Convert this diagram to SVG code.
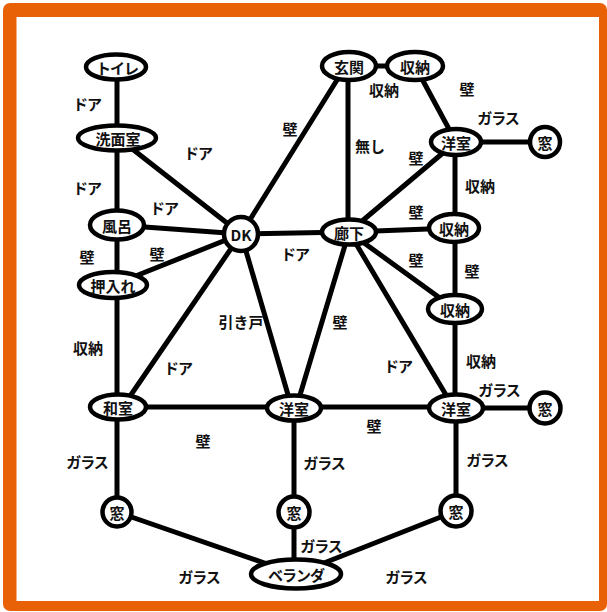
<svg xmlns="http://www.w3.org/2000/svg" width="607" height="612" viewBox="0 0 607 612">
<style>
.e{stroke:#000;stroke-width:5;stroke-linecap:round;fill:none}
.n{fill:#fff;stroke:#000;stroke-width:4.5}
.t{font-family:"Noto Sans CJK JP","Liberation Sans",sans-serif;font-size:15px;font-weight:bold;fill:#111;text-anchor:middle;dominant-baseline:central}
.k{letter-spacing:-1px}
</style>
<rect x="0" y="0" width="607" height="612" fill="#fff"/>
<rect x="3" y="3" width="604" height="608" rx="7" fill="#E96106"/>
<rect x="16.5" y="17" width="582.5" height="584" fill="#fff"/>
<g id="connectors">
<line class="e" x1="117" y1="66" x2="117" y2="137"/>
<line class="e" x1="117" y1="137" x2="117" y2="225"/>
<line class="e" x1="117" y1="225" x2="117" y2="285"/>
<line class="e" x1="117" y1="285" x2="117" y2="407"/>
<line class="e" x1="117" y1="407" x2="117" y2="512"/>
<line class="e" x1="117" y1="137" x2="241" y2="234"/>
<line class="e" x1="117" y1="225" x2="241" y2="234"/>
<line class="e" x1="113" y1="285" x2="241" y2="234"/>
<line class="e" x1="241" y1="234" x2="124" y2="405"/>
<line class="e" x1="241" y1="234" x2="291" y2="405"/>
<line class="e" x1="241" y1="234" x2="342" y2="72"/>
<line class="e" x1="241" y1="234" x2="349" y2="232"/>
<line class="e" x1="349" y1="66" x2="415" y2="66"/>
<line class="e" x1="348" y1="66" x2="348" y2="232"/>
<line class="e" x1="415" y1="66" x2="456" y2="142"/>
<line class="e" x1="456" y1="142" x2="545" y2="142"/>
<line class="e" x1="456" y1="142" x2="349" y2="232"/>
<line class="e" x1="455" y1="142" x2="455" y2="228"/>
<line class="e" x1="349" y1="232" x2="454" y2="228"/>
<line class="e" x1="455" y1="228" x2="455" y2="309"/>
<line class="e" x1="349" y1="232" x2="455" y2="309"/>
<line class="e" x1="455" y1="309" x2="455" y2="408"/>
<line class="e" x1="349" y1="232" x2="452" y2="405"/>
<line class="e" x1="349" y1="232" x2="297" y2="405"/>
<line class="e" x1="118" y1="407" x2="456" y2="407"/>
<line class="e" x1="456" y1="408" x2="545" y2="408"/>
<line class="e" x1="294" y1="408" x2="294" y2="574"/>
<line class="e" x1="456" y1="408" x2="456" y2="511"/>
<line class="e" x1="117" y1="512" x2="296" y2="574"/>
<line class="e" x1="456" y1="511" x2="296" y2="574"/>
</g>
<g id="toilet"><ellipse class="n" cx="116" cy="67" rx="30" ry="12.5"/><text class="t k" x="117" y="67">トイレ</text></g>
<g id="senmen"><ellipse class="n" cx="117" cy="138" rx="39" ry="12.5"/><text class="t" x="118" y="138">洗面室</text></g>
<g id="furo"><ellipse class="n" cx="117" cy="225" rx="27" ry="14.5"/><text class="t" x="117" y="225">風呂</text></g>
<g id="oshiire"><ellipse class="n" cx="113" cy="285" rx="34" ry="13"/><text class="t" x="113" y="285">押入れ</text></g>
<g id="dk"><circle class="n" cx="241" cy="234" r="17"/><text class="t" x="241" y="234">DK</text></g>
<g id="genkan"><ellipse class="n" cx="349" cy="66" rx="27" ry="14"/><text class="t" x="349" y="66">玄関</text></g>
<g id="shuno1"><ellipse class="n" cx="415" cy="66" rx="28" ry="14"/><text class="t" x="415" y="66">収納</text></g>
<g id="yoshitsu1"><ellipse class="n" cx="456" cy="142" rx="25" ry="13"/><text class="t" x="456" y="142">洋室</text></g>
<g id="mado1"><circle class="n" cx="545" cy="142" r="15"/><text class="t" x="545" y="142">窓</text></g>
<g id="roka"><ellipse class="n" cx="349" cy="232" rx="27" ry="12.5"/><text class="t" x="349" y="232">廊下</text></g>
<g id="shuno2"><ellipse class="n" cx="454" cy="228" rx="25" ry="14"/><text class="t" x="454" y="228">収納</text></g>
<g id="shuno3"><ellipse class="n" cx="455" cy="309" rx="27" ry="14"/><text class="t" x="455" y="309">収納</text></g>
<g id="washitsu"><ellipse class="n" cx="118" cy="407" rx="28" ry="12.5"/><text class="t" x="118" y="407">和室</text></g>
<g id="yoshitsu2"><ellipse class="n" cx="294" cy="408" rx="27" ry="12.5"/><text class="t" x="294" y="408">洋室</text></g>
<g id="yoshitsu3"><ellipse class="n" cx="456" cy="408" rx="27" ry="13.5"/><text class="t" x="456" y="408">洋室</text></g>
<g id="mado2"><circle class="n" cx="545" cy="408" r="15.5"/><text class="t" x="545" y="408">窓</text></g>
<g id="mado3"><circle class="n" cx="117" cy="512" r="14.5"/><text class="t" x="117" y="512">窓</text></g>
<g id="mado4"><circle class="n" cx="294" cy="512" r="15.5"/><text class="t" x="294" y="512">窓</text></g>
<g id="mado5"><circle class="n" cx="456" cy="511" r="15.5"/><text class="t" x="456" y="511">窓</text></g>
<g id="veranda"><ellipse class="n" cx="296" cy="574" rx="45" ry="14.5"/><text class="t k" x="296" y="574">ベランダ</text></g>
<g id="labels">
<text class="t k" x="87" y="103">ドア</text>
<text class="t k" x="198" y="152">ドア</text>
<text class="t k" x="87" y="187">ドア</text>
<text class="t k" x="164" y="207">ドア</text>
<text class="t" x="87" y="256">壁</text>
<text class="t" x="157" y="253">壁</text>
<text class="t" x="290" y="128">壁</text>
<text class="t k" x="295" y="253">ドア</text>
<text class="t" x="241" y="321">引き戸</text>
<text class="t" x="340" y="321">壁</text>
<text class="t k" x="178" y="367">ドア</text>
<text class="t" x="88" y="347">収納</text>
<text class="t" x="203" y="440">壁</text>
<text class="t k" x="87" y="461">ガラス</text>
<text class="t k" x="199" y="576">ガラス</text>
<text class="t k" x="324" y="462">ガラス</text>
<text class="t k" x="321" y="545">ガラス</text>
<text class="t k" x="406" y="576">ガラス</text>
<text class="t" x="374" y="425">壁</text>
<text class="t k" x="398" y="365">ドア</text>
<text class="t" x="481" y="360">収納</text>
<text class="t k" x="499" y="389">ガラス</text>
<text class="t k" x="487" y="459">ガラス</text>
<text class="t" x="472" y="270">壁</text>
<text class="t" x="416" y="259">壁</text>
<text class="t" x="416" y="211">壁</text>
<text class="t" x="416" y="157">壁</text>
<text class="t" x="370" y="145">無し</text>
<text class="t" x="384" y="89">収納</text>
<text class="t" x="467" y="88">壁</text>
<text class="t k" x="498" y="117">ガラス</text>
<text class="t" x="480" y="185">収納</text>
</g>
</svg>
